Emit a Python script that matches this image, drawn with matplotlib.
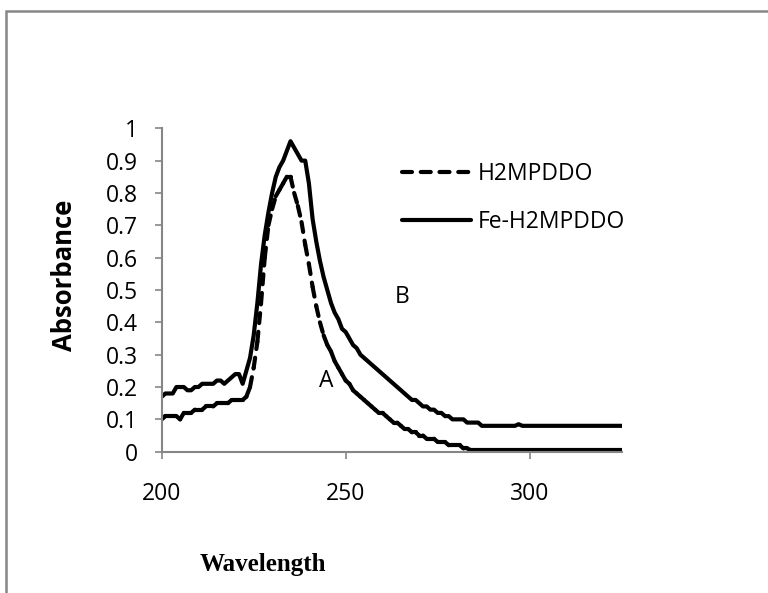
import numpy as np
import matplotlib
matplotlib.use("Agg")
import matplotlib.pyplot as plt
from matplotlib.collections import LineCollection
from matplotlib.lines import Line2D
from matplotlib.patches import Rectangle

# wavelength grid, 1 nm steps
wl = np.arange(200, 326)

# A : free ligand (dashed)
abs_ligand = [
    0.10, 0.11, 0.11, 0.11, 0.11, 0.10, 0.12, 0.12, 0.12, 0.13,   # 200-209
    0.13, 0.13, 0.14, 0.14, 0.14, 0.15, 0.15, 0.15, 0.15, 0.16,   # 210-219
    0.16, 0.16, 0.16, 0.17, 0.20, 0.26, 0.34, 0.46, 0.60, 0.70,   # 220-229
    0.75, 0.79, 0.81, 0.83, 0.85, 0.85, 0.80, 0.76, 0.71, 0.64,   # 230-239
    0.58, 0.51, 0.45, 0.40, 0.36, 0.33, 0.31, 0.28, 0.26, 0.24,   # 240-249
    0.22, 0.21, 0.19, 0.18, 0.17, 0.16, 0.15, 0.14, 0.13, 0.12,   # 250-259
    0.12, 0.11, 0.10, 0.09, 0.09, 0.08, 0.07, 0.07, 0.06, 0.06,   # 260-269
    0.05, 0.05, 0.04, 0.04, 0.04, 0.03, 0.03, 0.03, 0.02, 0.02,   # 270-279
    0.02, 0.02, 0.01, 0.01, 0.005, 0.005, 0.005, 0.005, 0.005, 0.005,  # 280-289
] + [0.005] * 36                                                  # 290-325

# B : Fe complex (solid)
abs_complex = [
    0.17, 0.18, 0.18, 0.18, 0.20, 0.20, 0.20, 0.19, 0.19, 0.20,   # 200-209
    0.20, 0.21, 0.21, 0.21, 0.21, 0.22, 0.22, 0.21, 0.22, 0.23,   # 210-219
    0.24, 0.24, 0.21, 0.25, 0.29, 0.36, 0.46, 0.58, 0.67, 0.74,   # 220-229
    0.80, 0.85, 0.88, 0.90, 0.93, 0.96, 0.94, 0.92, 0.90, 0.90,   # 230-239
    0.83, 0.72, 0.65, 0.59, 0.54, 0.50, 0.46, 0.43, 0.41, 0.38,   # 240-249
    0.37, 0.35, 0.33, 0.32, 0.30, 0.29, 0.28, 0.27, 0.26, 0.25,   # 250-259
    0.24, 0.23, 0.22, 0.21, 0.20, 0.19, 0.18, 0.17, 0.16, 0.16,   # 260-269
    0.15, 0.14, 0.14, 0.13, 0.13, 0.12, 0.12, 0.11, 0.11, 0.10,   # 270-279
    0.10, 0.10, 0.10, 0.09, 0.09, 0.09, 0.09, 0.08, 0.08, 0.08,   # 280-289
    0.08, 0.08, 0.08, 0.08, 0.08, 0.08, 0.08, 0.085, 0.08, 0.08,  # 290-299
] + [0.08] * 26                                                   # 300-325

labels = ["H2MPDDO", "Fe-H2MPDDO"]
yticks = [0, 0.1, 0.2, 0.3, 0.4, 0.5, 0.6, 0.7, 0.8, 0.9, 1]
xticks = [200, 250, 300]

sans = "Open Sans"
grey = "#868686"
lw = 3.0
dash = (2.4, 2.1)

fig = plt.figure(figsize=(7.68, 5.93), dpi=100)
ax = fig.add_axes([161.7 / 768, 1 - 451.7 / 593, 460 / 768, 323.4 / 593])

# excel restarts the dash pattern at every point, so draw segment by segment
pts = np.column_stack([wl, abs_ligand])
segs = np.stack([pts[:-1], pts[1:]], axis=1)
lc = LineCollection(segs, colors="black", linewidths=lw,
                    linestyles=[(0, dash)], capstyle="round")
ax.add_collection(lc)

ax.plot(wl, abs_complex, color="black", lw=lw, solid_joinstyle="round",
        solid_capstyle="round")

ax.set_xlim(200, 325)
ax.set_ylim(0, 1)
ax.set_xticks(xticks)
ax.set_yticks(yticks)
ax.set_yticklabels([f"{v:g}" for v in yticks])

for s in ["top", "right"]:
    ax.spines[s].set_visible(False)
for s in ["left", "bottom"]:
    ax.spines[s].set_color(grey)
    ax.spines[s].set_linewidth(1.5)
ax.tick_params(axis="both", direction="out", length=5, width=1.2, color=grey,
               labelsize=16.5, labelfontfamily=sans)
ax.tick_params(axis="x", pad=17)
ax.tick_params(axis="y", pad=12)

ax.text(244.6, 0.218, "A", fontsize=16.5, family=sans, ha="center", va="center")
ax.text(265.4, 0.477, "B", fontsize=16.5, family=sans, ha="center", va="center")

handles = [
    Line2D([], [], color="black", lw=lw, dashes=dash, dash_capstyle="round"),
    Line2D([], [], color="black", lw=lw, solid_capstyle="round"),
]
ax.legend(handles, labels, loc="upper left", bbox_to_anchor=(0.522, 0.895),
          frameon=False, borderpad=0, borderaxespad=0, handlelength=3.0,
          handletextpad=0.3, labelspacing=1.02,
          prop={"family": sans, "size": 16.5})

fig.text(64 / 768, 1 - 275 / 593, "Absorbance", rotation=90, family=sans,
         weight="bold", fontsize=18.5, ha="center", va="center")
fig.text(263 / 768, 1 - 565 / 593, "Wavelength", family="Liberation Serif",
         weight="bold", fontsize=18, ha="center", va="center")

# outer chart frame (only top and left edges show in the crop)
fig.add_artist(Rectangle((5.5 / 768, -0.1), 1.2, 1.1 - 11.5 / 593,
                         transform=fig.transFigure, fill=False,
                         edgecolor=grey, lw=1.8, clip_on=False))

fig.savefig("out.png", dpi=100)
